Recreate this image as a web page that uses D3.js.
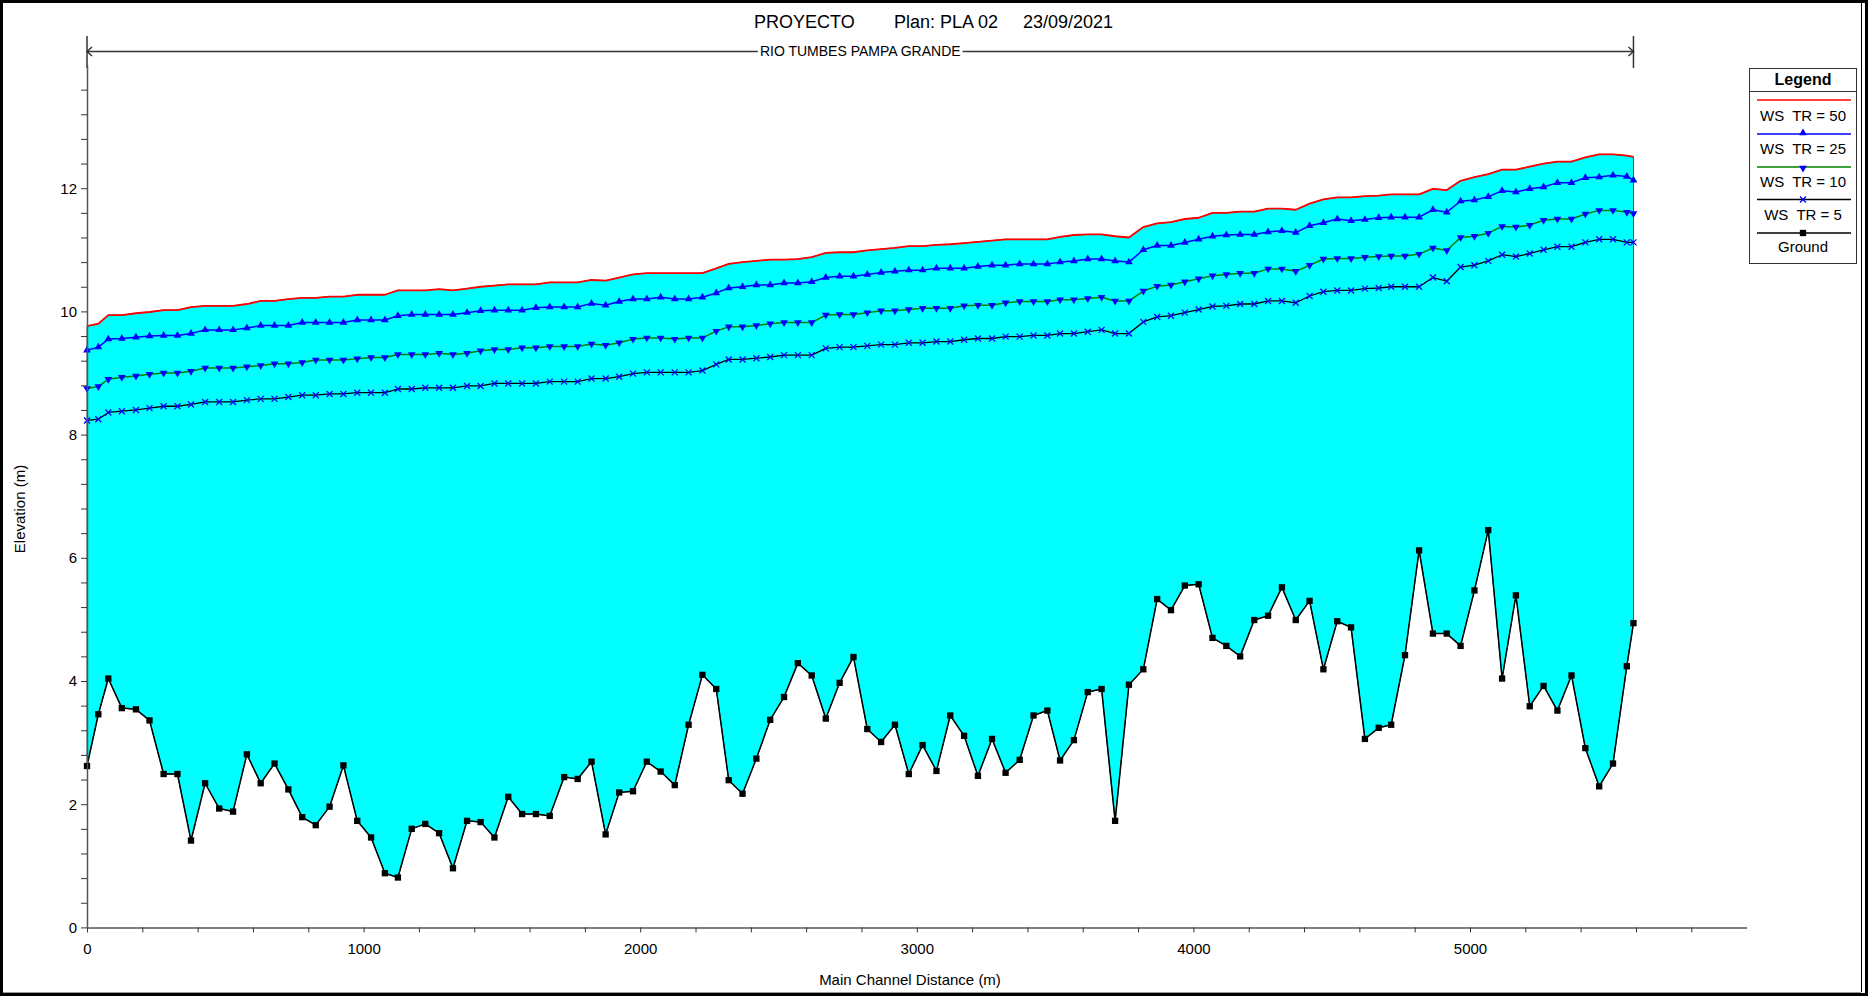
<!DOCTYPE html>
<html>
<head>
<meta charset="utf-8">
<script src="https://cdn.jsdelivr.net/npm/d3@7"></script>
<style>
  html, body { margin: 0; padding: 0; background: #fff; }
  svg { display: block; }
  text { font-family: "Liberation Sans", Arial, sans-serif; fill: #000; }
</style>
</head>
<body>
<svg id="chart" width="1869" height="997"></svg>
<script>
// ---------------- DATA ----------------
const stations = [0,41,77,126,177,226,277,327,376,427,478,528,578,628,678,728,778,827,877,927,977,1027,1077,1124,1174,1223,1273,1323,1374,1423,1473,1523,1573,1623,1673,1725,1774,1824,1875,
1924,1974,2024,2074,2125,2175,2225,2275,2320,2370,2420,2470,2520,2570,2620,2671,2721,2771,2821,2871,2921,2971,3021,3071,3121,3171,3221,3272,3321,3372,3422,3472,3518,3568,3618,3668,3717,3767,
3819,3869,3919,3969,4019,4069,4119,4169,4220,4270,4320,4370,4420,4470,4520,4570,4620,4670,4715,4765,4816,4866,4916,4966,5016,5066,5116,5166,5216,5266,5316,5367,5417,5467,5517,5567,5591];

const ground = [2.62,3.46,4.04,3.56,3.54,3.36,2.49,2.49,1.41,2.34,1.93,1.88,2.81,2.34,2.66,2.24,1.79,1.66,1.96,2.63,1.73,1.46,0.88,0.81,1.60,1.68,1.53,0.96,1.73,1.71,1.46,2.12,1.84,1.84,1.81,2.44,2.41,2.69,1.51,
2.19,2.21,2.69,2.53,2.31,3.29,4.10,3.87,2.39,2.17,2.74,3.37,3.74,4.29,4.09,3.39,3.97,4.39,3.22,3.01,3.29,2.49,2.96,2.54,3.44,3.11,2.46,3.06,2.51,2.72,3.44,3.52,2.71,3.04,3.82,3.87,1.73,3.94,
4.19,5.33,5.15,5.55,5.57,4.70,4.57,4.40,4.99,5.06,5.52,4.99,5.30,4.19,4.97,4.87,3.06,3.24,3.29,4.42,6.12,4.77,4.77,4.57,5.47,6.45,4.04,5.39,3.59,3.92,3.52,4.09,2.91,2.29,2.66,4.24,4.94];

const ws5 = [8.23,8.25,8.36,8.38,8.40,8.43,8.46,8.46,8.49,8.53,8.53,8.53,8.56,8.58,8.58,8.61,8.64,8.64,8.66,8.66,8.68,8.68,8.68,8.74,8.74,8.76,8.76,8.76,8.79,8.79,8.83,8.83,8.83,8.83,8.86,8.86,8.86,8.91,8.91,
8.94,8.99,9.01,9.01,9.01,9.01,9.04,9.14,9.22,9.22,9.24,9.26,9.29,9.29,9.29,9.40,9.42,9.42,9.44,9.46,9.46,9.49,9.49,9.51,9.51,9.54,9.56,9.56,9.59,9.59,9.61,9.61,9.64,9.64,9.67,9.70,9.64,9.64,
9.83,9.91,9.93,9.98,10.03,10.08,10.09,10.12,10.12,10.17,10.17,10.14,10.25,10.32,10.34,10.34,10.37,10.38,10.40,10.40,10.40,10.55,10.49,10.72,10.75,10.82,10.92,10.89,10.94,11.00,11.05,11.05,11.12,11.17,11.17,11.12,11.12];

const ws10 = [8.75,8.78,8.90,8.93,8.95,8.98,9.00,9.00,9.03,9.08,9.08,9.08,9.10,9.12,9.15,9.15,9.17,9.21,9.21,9.21,9.23,9.25,9.25,9.30,9.30,9.30,9.32,9.30,9.32,9.36,9.38,9.38,9.41,9.41,9.43,9.43,9.43,9.47,9.45,
9.49,9.55,9.57,9.57,9.55,9.57,9.57,9.68,9.75,9.75,9.77,9.80,9.82,9.82,9.82,9.94,9.95,9.95,9.98,10.01,10.01,10.03,10.05,10.05,10.05,10.09,10.10,10.10,10.14,10.16,10.16,10.16,10.19,10.19,10.21,10.23,10.17,10.17,
10.33,10.41,10.43,10.48,10.53,10.58,10.60,10.62,10.62,10.69,10.69,10.65,10.75,10.85,10.86,10.86,10.88,10.89,10.90,10.90,10.93,11.03,10.99,11.20,11.22,11.27,11.38,11.37,11.40,11.48,11.50,11.50,11.58,11.64,11.64,11.61,11.59];

const ws25 = [9.37,9.42,9.55,9.56,9.58,9.60,9.61,9.61,9.64,9.70,9.70,9.70,9.73,9.77,9.77,9.77,9.82,9.82,9.82,9.82,9.86,9.86,9.86,9.93,9.95,9.95,9.95,9.95,9.98,10.01,10.02,10.02,10.02,10.06,10.07,10.07,10.07,10.13,10.10,
10.16,10.20,10.20,10.23,10.20,10.20,10.23,10.30,10.38,10.40,10.43,10.43,10.46,10.46,10.48,10.55,10.57,10.57,10.60,10.63,10.65,10.67,10.67,10.70,10.70,10.70,10.73,10.75,10.75,10.77,10.77,10.77,10.80,10.82,10.85,10.85,10.82,10.80,
11.00,11.07,11.07,11.12,11.17,11.22,11.24,11.25,11.25,11.29,11.31,11.28,11.39,11.44,11.50,11.47,11.49,11.52,11.53,11.53,11.53,11.65,11.61,11.79,11.81,11.86,11.96,11.94,11.99,12.02,12.09,12.09,12.17,12.18,12.21,12.19,12.13];

const ws50 = [9.76,9.80,9.94,9.94,9.97,9.99,10.02,10.02,10.07,10.09,10.09,10.09,10.12,10.17,10.17,10.20,10.22,10.22,10.24,10.24,10.27,10.27,10.27,10.34,10.34,10.34,10.36,10.34,10.37,10.40,10.42,10.44,10.44,10.44,10.47,10.47,10.47,10.51,10.50,
10.55,10.60,10.62,10.62,10.62,10.62,10.62,10.70,10.77,10.80,10.82,10.84,10.84,10.85,10.88,10.95,10.96,10.96,10.99,11.01,11.03,11.06,11.06,11.08,11.09,11.11,11.13,11.15,11.17,11.17,11.17,11.17,11.21,11.24,11.25,11.25,11.22,11.20,
11.37,11.43,11.45,11.50,11.52,11.60,11.60,11.62,11.62,11.67,11.67,11.65,11.75,11.82,11.85,11.85,11.87,11.88,11.90,11.90,11.90,11.99,11.97,12.12,12.18,12.23,12.30,12.30,12.35,12.40,12.43,12.43,12.50,12.55,12.55,12.53,12.51];

const legendLabels = ["WS  TR = 50", "WS  TR = 25", "WS  TR = 10", "WS  TR = 5", "Ground"];
const xTickValues = d3.range(0, 30).map(i => i * 200);      // 0..5800
const yTickValues = d3.range(0, 35).map(i => +(i * 0.4).toFixed(1)); // 0..13.6
const titleParts = ["PROYECTO", "Plan: PLA 02", "23/09/2021"];
const reachName = "RIO TUMBES PAMPA GRANDE";
const xTitle = "Main Channel Distance (m)";
const yTitle = "Elevation (m)";

// ---------------- DRAW ----------------
const svg = d3.select("#chart");
const FONT = '"Liberation Sans", Arial, sans-serif';

const x = d3.scaleLinear().domain([0, 6000]).range([87, 1746.6]);
const y = d3.scaleLinear().domain([0, 14]).range([927.4, 65]);

const rows = stations.map((s, i) => ({ s, g: ground[i], w5: ws5[i], w10: ws10[i], w25: ws25[i], w50: ws50[i] }));

// frame
svg.append("rect").attr("x", 1.5).attr("y", 1.5).attr("width", 1865).attr("height", 993)
  .attr("fill", "none").attr("stroke", "#000").attr("stroke-width", 3);
svg.append("line").attr("x1", 1861.5).attr("x2", 1861.5).attr("y1", 3).attr("y2", 992)
  .attr("stroke", "#000").attr("stroke-width", 1);
svg.append("line").attr("x1", 3).attr("x2", 1861).attr("y1", 992.5).attr("y2", 992.5)
  .attr("stroke", "#999").attr("stroke-width", 1);

// title
const titleX = [754, 894, 1023];
titleParts.forEach((t, i) => {
  svg.append("text").attr("x", titleX[i]).attr("y", 28).attr("font-size", 18).text(t);
});

// reach bar
const rx0 = x(stations[0]), rx1 = x(stations[stations.length - 1]);
const reach = svg.append("g").attr("stroke", "#333").attr("stroke-width", 1.5).attr("fill", "none");
reach.append("line").attr("x1", rx0).attr("x2", rx0).attr("y1", 36).attr("y2", 68);
reach.append("line").attr("x1", rx1).attr("x2", rx1).attr("y1", 36).attr("y2", 68);
const midX = (rx0 + rx1) / 2;
const reachText = svg.append("text").attr("x", midX).attr("y", 56).attr("font-size", 14)
  .attr("text-anchor", "middle").text(reachName);
const tw = reachText.node().getComputedTextLength();
reach.append("line").attr("x1", rx0).attr("x2", midX - tw / 2 - 2).attr("y1", 51.5).attr("y2", 51.5);
reach.append("line").attr("x1", midX + tw / 2 + 2).attr("x2", rx1).attr("y1", 51.5).attr("y2", 51.5);
reach.append("path").attr("d", `M${rx0 + 5},47L${rx0},51.5L${rx0 + 5},56`);
reach.append("path").attr("d", `M${rx1 - 5},47L${rx1},51.5L${rx1 - 5},56`);

// fill between ground and highest WS
const area = d3.area().x(d => x(d.s)).y0(d => y(d.g)).y1(d => y(d.w50));
svg.append("path").datum(rows).attr("d", area)
  .attr("fill", "#00FFFF").attr("stroke", "#3a5a5a").attr("stroke-width", 1);

// lines
function drawLine(key, color, width) {
  const ln = d3.line().x(d => x(d.s)).y(d => y(d[key]));
  svg.append("path").datum(rows).attr("d", ln).attr("fill", "none")
    .attr("stroke", color).attr("stroke-width", width).attr("stroke-linejoin", "round");
}
drawLine("w50", "#FF0000", 1.8);
drawLine("w25", "#0000FF", 1.5);
drawLine("w10", "#008000", 1.5);
drawLine("w5", "#000000", 1.3);
drawLine("g", "#000000", 1.5);

const triUp = d3.symbol().type(d3.symbolTriangle).size(26)();
const sq = d3.symbol().type(d3.symbolSquare).size(40)();
const xMark = "M-3,-3L3,3M-3,3L3,-3";

function markers(key, pathD, fill, stroke, rot) {
  svg.append("g").selectAll("path").data(rows).join("path")
    .attr("d", pathD)
    .attr("transform", d => `translate(${x(d.s)},${y(d[key])})${rot ? " rotate(180)" : ""}`)
    .attr("fill", fill).attr("stroke", stroke).attr("stroke-width", stroke === "none" ? 0 : 1.3);
}
markers("w25", triUp, "#0000FF", "none", false);
markers("w10", triUp, "#0000FF", "none", true);
markers("w5", xMark, "none", "#0000FF", false);
markers("g", sq, "#000", "none", false);

// axes
const xAxis = d3.axisBottom(x).tickValues(xTickValues).tickSize(5).tickSizeOuter(0)
  .tickFormat(d => d % 1000 === 0 ? d : "");
const gx = svg.append("g").attr("transform", "translate(0,927.4)").call(xAxis);
gx.select(".domain").attr("stroke", "#555").attr("stroke-width", 1.5);
gx.selectAll(".tick line").attr("stroke", "#333");
gx.selectAll("text").attr("font-size", 15).attr("font-family", FONT).attr("y", 16).attr("dy", "0.71em");

const yAxis = d3.axisLeft(y).tickValues(yTickValues).tickSize(6).tickSizeOuter(0).tickPadding(4)
  .tickFormat(d => Math.abs(d / 2 - Math.round(d / 2)) < 1e-6 ? d3.format("d")(d) : "");
const gy = svg.append("g").attr("transform", "translate(87,0)").call(yAxis);
gy.select(".domain").attr("stroke", "#555").attr("stroke-width", 1.5);
gy.selectAll(".tick line").attr("stroke", "#333");
gy.selectAll("text").attr("font-size", 15).attr("font-family", FONT);

svg.append("text").attr("x", 910).attr("y", 985).attr("text-anchor", "middle")
  .attr("font-size", 15).text(xTitle);
svg.append("text").attr("transform", "translate(25,509) rotate(-90)").attr("text-anchor", "middle")
  .attr("font-size", 15).text(yTitle);

// legend
const lg = svg.append("g");
lg.append("rect").attr("x", 1749.5).attr("y", 68.5).attr("width", 107).attr("height", 195)
  .attr("fill", "#fff").attr("stroke", "#333").attr("stroke-width", 1);
lg.append("line").attr("x1", 1749.5).attr("x2", 1856.5).attr("y1", 91.5).attr("y2", 91.5)
  .attr("stroke", "#333");
lg.append("text").attr("x", 1803).attr("y", 85).attr("text-anchor", "middle")
  .attr("font-size", 16).attr("font-weight", "bold").text("Legend");
const lgItems = [
  { ly: 100, ty: 121, color: "#FF0000", mk: null },
  { ly: 134, ty: 154, color: "#0000FF", mk: "up" },
  { ly: 167, ty: 187, color: "#008000", mk: "down" },
  { ly: 199.5, ty: 220, color: "#000000", mk: "x" },
  { ly: 233, ty: 252, color: "#000000", mk: "sq" }
];
lgItems.forEach((it, i) => {
  lg.append("line").attr("x1", 1757).attr("x2", 1851).attr("y1", it.ly).attr("y2", it.ly)
    .attr("stroke", it.color).attr("stroke-width", 1.5);
  if (it.mk === "up" || it.mk === "down") {
    lg.append("path").attr("d", triUp).attr("fill", "#0000FF")
      .attr("transform", `translate(1803,${it.ly - (it.mk === "up" ? 1 : -1)})${it.mk === "down" ? " rotate(180)" : ""}`);
  } else if (it.mk === "x") {
    lg.append("path").attr("d", xMark).attr("stroke", "#0000FF").attr("stroke-width", 1.3)
      .attr("fill", "none").attr("transform", `translate(1803,${it.ly})`);
  } else if (it.mk === "sq") {
    lg.append("path").attr("d", sq).attr("fill", "#000").attr("transform", `translate(1803,${it.ly})`);
  }
  lg.append("text").attr("x", 1803).attr("y", it.ty).attr("text-anchor", "middle")
    .attr("font-size", 15).style("white-space", "pre").text(legendLabels[i]);
});
</script>
</body>
</html>
